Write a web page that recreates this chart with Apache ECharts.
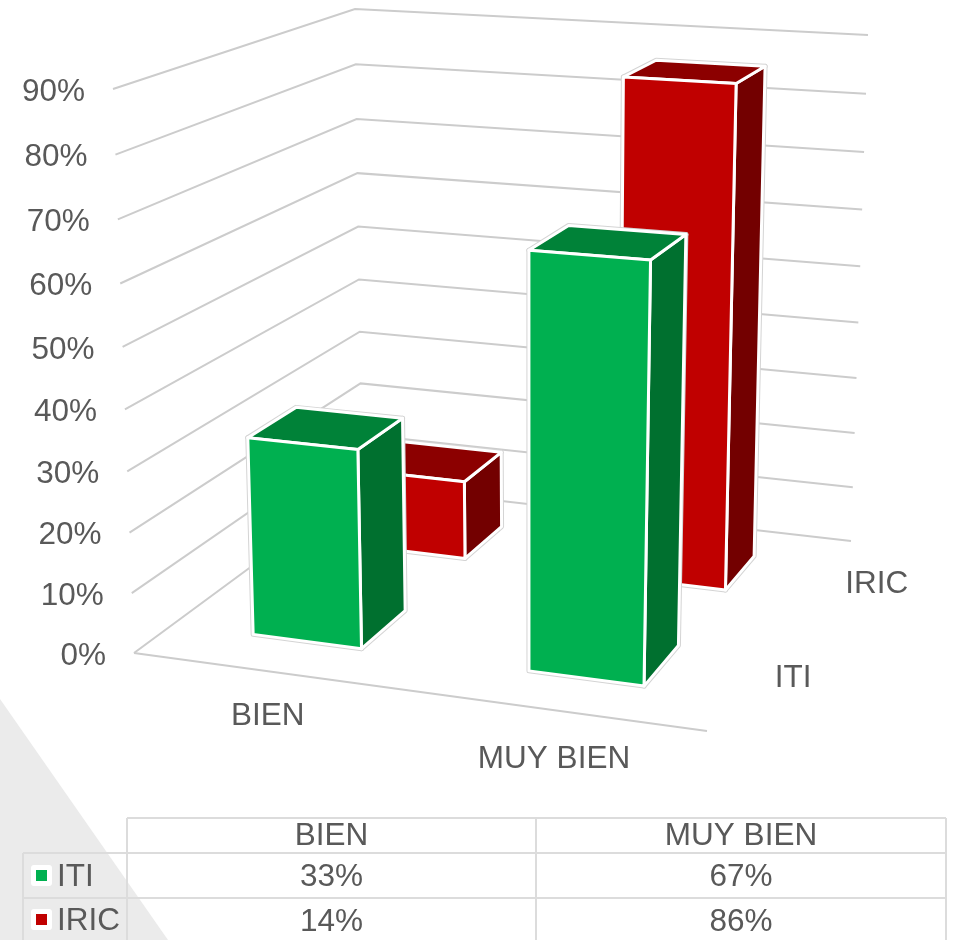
<!DOCTYPE html>
<html>
<head>
<meta charset="utf-8">
<style>
  html, body { margin: 0; padding: 0; background: #fff; }
  #chart { width: 954px; height: 940px; }
</style>
<script src="https://cdn.jsdelivr.net/npm/echarts@6/dist/echarts.min.js"></script>
</head>
<body>
<div id="chart"></div>
<script>
const categories = ["BIEN", "MUY BIEN"];
const seriesNames = ["ITI", "IRIC"];
const itiValues = [33, 67];
const iricValues = [14, 86];
const yTicks = [0, 10, 20, 30, 40, 50, 60, 70, 80, 90];

// the box the chart sits in, as seen on the picture: floor and 90% plane
const floorQuad = [[134, 653], [707, 731], [851, 541], [362, 485]];
const topQuad = [[113, 89], [723, 129], [868, 35], [355, 9]];
const verticalRatio = 0.95; // perspective along the value axis
const textColor = "#595959";
const font = "31.5px 'Liberation Sans', Arial, sans-serif";
const gridLine = "#cccccc";
const tableLine = "#dcdcdc";
const colors = {
  ITI: { front: "#00b050", top: "#008238", side: "#00702f" },
  IRIC: { front: "#c00000", top: "#8c0000", side: "#730000" },
};

function quadMap(q) {
  const [p0, p1, p2, p3] = q;
  const dx1 = p1[0] - p2[0], dx2 = p3[0] - p2[0], sx = p0[0] - p1[0] + p2[0] - p3[0];
  const dy1 = p1[1] - p2[1], dy2 = p3[1] - p2[1], sy = p0[1] - p1[1] + p2[1] - p3[1];
  const den = dx1 * dy2 - dx2 * dy1;
  const g = (sx * dy2 - dx2 * sy) / den;
  const h = (dx1 * sy - sx * dy1) / den;
  const a = p1[0] - p0[0] + g * p1[0], b = p3[0] - p0[0] + h * p3[0];
  const d = p1[1] - p0[1] + g * p1[1], e = p3[1] - p0[1] + h * p3[1];
  return (u, v) => {
    const w = g * u + h * v + 1;
    return [(a * u + b * v + p0[0]) / w, (d * u + e * v + p0[1]) / w];
  };
}
const floorAt = quadMap(floorQuad);
const topAt = quadMap(topQuad);

// u along categories, v along series depth, t = 0..1 of the value axis
function project(u, v, t) {
  const p = floorAt(u, v), q = topAt(u, v);
  const k = t * verticalRatio;
  const n = 1 - t + k;
  return [((1 - t) * p[0] + k * q[0]) / n, ((1 - t) * p[1] + k * q[1]) / n];
}

const gridBox = { left: 100, top: 100, width: 700, height: 500 };

function valueToT(api, value) {
  const y = api.coord([0, value])[1];
  return (gridBox.top + gridBox.height - y) / gridBox.height;
}

function renderBar(params, api) {
  const name = params.seriesName;
  const c = colors[name];
  const uMid = (api.coord([api.value(0), 0])[0] - gridBox.left) / gridBox.width;
  const vMid = (seriesNames.indexOf(name) + 0.5) / seriesNames.length;
  const half = 0.1; // gap width 150%
  const t = valueToT(api, api.value(1));
  const u0 = uMid - half, u1 = uMid + half, v0 = vMid - half, v1 = vMid + half;
  const faces = [
    { fill: c.side, pts: [project(u1, v0, 0), project(u1, v1, 0), project(u1, v1, t), project(u1, v0, t)] },
    { fill: c.top, pts: [project(u0, v0, t), project(u1, v0, t), project(u1, v1, t), project(u0, v1, t)] },
    { fill: c.front, pts: [project(u0, v0, 0), project(u1, v0, 0), project(u1, v0, t), project(u0, v0, t)] },
  ];
  const children = [];
  faces.forEach((f) => {
    children.push({
      type: "polygon",
      shape: { points: f.pts },
      style: { fill: "none", stroke: "#d4d4d4", lineWidth: 5, lineJoin: "round" },
    });
  });
  faces.forEach((f) => {
    children.push({
      type: "polygon",
      shape: { points: f.pts },
      style: { fill: f.fill, stroke: "#ffffff", lineWidth: 3, lineJoin: "round" },
    });
  });
  return { type: "group", children: children };
}

function renderWall(params, api) {
  const value = api.value(1);
  const t = valueToT(api, value);
  const left = project(0, 0, t);
  const children = [
    {
      type: "polyline",
      shape: { points: [left, project(0, 1, t), project(1, 1, t)] },
      style: { fill: "none", stroke: gridLine, lineWidth: 2 },
    },
    {
      type: "text",
      style: {
        text: value + "%",
        x: left[0] - 28,
        y: left[1] + 3,
        align: "right",
        verticalAlign: "middle",
        fill: textColor,
        font: font,
      },
    },
  ];
  if (value === 0) {
    children.push({
      type: "line",
      shape: { x1: left[0], y1: left[1], x2: project(1, 0, 0)[0], y2: project(1, 0, 0)[1] },
      style: { stroke: gridLine, lineWidth: 2 },
    });
  }
  return { type: "group", children: children };
}

function renderCatLabel(params, api) {
  const u = (api.coord([api.value(0), 0])[0] - gridBox.left) / gridBox.width;
  const p = project(u, 0, 0);
  return {
    type: "text",
    style: {
      text: categories[api.value(0)],
      x: p[0] - 3,
      y: p[1] + 45 + (u - 0.25) * 8,
      align: "center",
      verticalAlign: "middle",
      fill: textColor,
      font: font,
    },
  };
}

function renderDepthLabel(params, api) {
  const i = params.dataIndex;
  const v = (i + 0.5) / seriesNames.length;
  const p = project(1, v, 0);
  return {
    type: "text",
    style: {
      text: seriesNames[i],
      x: p[0] + 45 + (v - 0.25) * 24,
      y: p[1] + 2,
      align: "center",
      verticalAlign: "middle",
      fill: textColor,
      font: font,
    },
  };
}

// data table under the chart
const tableX = [23, 127, 536, 946];
const tableY = [818, 853, 898, 940];
const tableValues = [itiValues, iricValues];

function line(x1, y1, x2, y2) {
  return { type: "line", shape: { x1, y1, x2, y2 }, style: { stroke: tableLine, lineWidth: 2 }, silent: true };
}
function cellText(text, x, y, align) {
  return {
    type: "text",
    x: x,
    y: y,
    style: { text: text, align: align, verticalAlign: "middle", fill: textColor, font: font },
    silent: true,
  };
}

const tableGraphics = [
  {
    type: "polygon",
    z: -1,
    shape: { points: [[0, 699], [168, 940], [0, 940]] },
    style: { fill: "#ebebeb" },
    silent: true,
  },
  line(tableX[1], tableY[0], tableX[3], tableY[0]),
  line(tableX[0], tableY[1], tableX[3], tableY[1]),
  line(tableX[0], tableY[2], tableX[3], tableY[2]),
  line(tableX[0], tableY[1], tableX[0], tableY[3]),
  line(tableX[1], tableY[0], tableX[1], tableY[3]),
  line(tableX[2], tableY[0], tableX[2], tableY[3]),
  line(tableX[3], tableY[0], tableX[3], tableY[3]),
];
categories.forEach((cat, c) => {
  const cx = (tableX[c + 1] + tableX[c + 2]) / 2;
  tableGraphics.push(cellText(cat, cx, 836, "center"));
  seriesNames.forEach((name, s) => {
    tableGraphics.push(cellText(tableValues[s][c] + "%", cx, 877 + s * 45, "center"));
  });
});
seriesNames.forEach((name, s) => {
  const y = 876 + s * 44;
  tableGraphics.push({
    type: "rect",
    shape: { x: 31, y: y - 11, width: 21, height: 21, r: 3 },
    style: { fill: "#ffffff" },
    silent: true,
  });
  tableGraphics.push({
    type: "rect",
    shape: { x: 36, y: y - 6, width: 11, height: 11 },
    style: { fill: colors[name].front },
    silent: true,
  });
  tableGraphics.push(cellText(name, 57, y + 1, "left"));
});

const chart = echarts.init(document.getElementById("chart"));
chart.setOption({
  animation: false,
  backgroundColor: "#ffffff",
  grid: gridBox,
  xAxis: { type: "category", data: categories, show: false },
  yAxis: { type: "value", min: 0, max: 90, show: false },
  graphic: tableGraphics,
  series: [
    {
      type: "custom",
      name: "walls",
      renderItem: renderWall,
      clip: false,
      z: 1,
      silent: true,
      data: yTicks.map((v) => [0, v]),
    },
    {
      type: "custom",
      name: "categories",
      renderItem: renderCatLabel,
      clip: false,
      z: 1,
      silent: true,
      data: categories.map((c, i) => [i, 0]),
    },
    {
      type: "custom",
      name: "depth",
      renderItem: renderDepthLabel,
      clip: false,
      z: 1,
      silent: true,
      data: seriesNames.map((n, i) => [0, i]),
    },
    {
      type: "custom",
      name: "IRIC",
      renderItem: renderBar,
      clip: false,
      z: 2,
      data: iricValues.map((v, i) => [i, v]),
    },
    {
      type: "custom",
      name: "ITI",
      renderItem: renderBar,
      clip: false,
      z: 3,
      data: itiValues.map((v, i) => [i, v]),
    },
  ],
});
</script>
</body>
</html>
